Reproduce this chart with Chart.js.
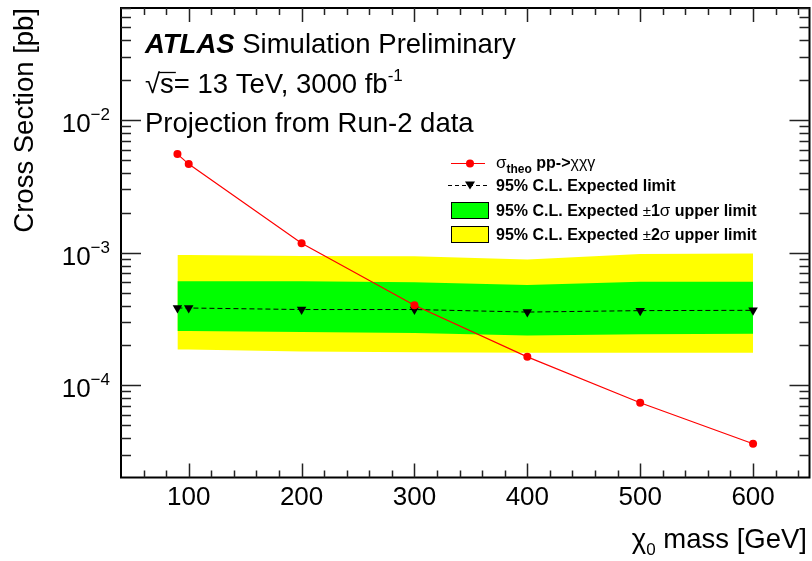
<!DOCTYPE html>
<html>
<head>
<meta charset="utf-8">
<script src="https://cdn.jsdelivr.net/npm/chart.js@4.4.1/dist/chart.umd.min.js"></script>
<style>
  html, body { margin: 0; padding: 0; background: #fff; overflow: hidden; }
  #wrap { width: 812px; height: 561px; position: relative; }
  canvas { display: block; }
</style>
</head>
<body>
<div id="wrap"><canvas id="limitChart"></canvas></div>
<script>
// chi0 mass points [GeV]
const masses = [90, 100, 200, 300, 400, 500, 600];
// theory cross section [pb]
const sigmaTheo = [5.54e-3, 4.66e-3, 1.18e-3, 4.02e-4, 1.64e-4, 7.4e-5, 3.63e-5];
// expected 95% CL limit [pb]
const expLimit = [3.83e-4, 3.83e-4, 3.73e-4, 3.73e-4, 3.57e-4, 3.66e-4, 3.68e-4];
// +-1 sigma band
const band1Up = [6.1e-4, 6.1e-4, 6.1e-4, 6.0e-4, 5.7e-4, 6.03e-4, 6.03e-4];
const band1Down = [2.57e-4, 2.57e-4, 2.52e-4, 2.48e-4, 2.38e-4, 2.43e-4, 2.45e-4];
// +-2 sigma band
const band2Up = [9.6e-4, 9.6e-4, 9.45e-4, 9.4e-4, 8.9e-4, 9.8e-4, 9.86e-4];
const band2Down = [1.86e-4, 1.86e-4, 1.8e-4, 1.78e-4, 1.76e-4, 1.76e-4, 1.76e-4];

const xTicks = [100, 200, 300, 400, 500, 600];
const yDecades = [-4, -3, -2];

const FONT = '"Liberation Sans", Arial, Helvetica, sans-serif';

function xy(ys) {
  return masses.map((m, i) => ({ x: m, y: ys[i] }));
}

// text made of parts (sub/superscripts), returns end x
function drawScript(ctx, parts, x, y) {
  let cx = x;
  parts.forEach(p => {
    ctx.font = p.font;
    ctx.fillText(p.text, cx, y + (p.dy || 0));
    cx += ctx.measureText(p.text).width;
  });
  return cx;
}

const rootFrame = {
  id: "rootFrame",
  afterDraw(chart) {
    const ctx = chart.ctx;
    const area = chart.chartArea;
    const xs = chart.scales.x;
    const ys = chart.scales.y;
    ctx.save();
    ctx.strokeStyle = "#000";
    ctx.fillStyle = "#000";
    ctx.textAlign = "left";
    ctx.textBaseline = "alphabetic";

    // frame
    ctx.lineWidth = 2;
    ctx.strokeRect(area.left, area.top, area.right - area.left, area.bottom - area.top);

    // x ticks, inside, bottom and top
    ctx.lineWidth = 1.5;
    ctx.strokeStyle = "#222";
    for (let v = 60; v <= 640; v += 20) {
      const px = Math.round(xs.getPixelForValue(v)) + 0.5;
      const len = v % 100 === 0 ? 14 : 7;
      ctx.beginPath();
      ctx.moveTo(px, area.bottom);
      ctx.lineTo(px, area.bottom - len);
      ctx.moveTo(px, area.top);
      ctx.lineTo(px, area.top + len);
      ctx.stroke();
    }

    // y ticks, inside, left and right
    for (let d = -5; d <= -1; d++) {
      for (let m = 1; m <= 9; m++) {
        const v = m * Math.pow(10, d);
        if (v < ys.min || v > ys.max) continue;
        const py = Math.round(ys.getPixelForValue(v)) + 0.5;
        const len = m === 1 ? 20 : 10;
        ctx.beginPath();
        ctx.moveTo(area.left, py);
        ctx.lineTo(area.left + len, py);
        ctx.moveTo(area.right, py);
        ctx.lineTo(area.right - len, py);
        ctx.stroke();
      }
    }

    // x tick labels
    ctx.font = "26px " + FONT;
    ctx.textAlign = "center";
    xTicks.forEach(v => {
      ctx.fillText(String(v), xs.getPixelForValue(v), 505);
    });
    ctx.textAlign = "left";

    // y tick labels 10^n
    yDecades.forEach(d => {
      const py = ys.getPixelForValue(Math.pow(10, d));
      ctx.font = "26px " + FONT;
      const w10 = ctx.measureText("10").width;
      ctx.font = "17px " + FONT;
      const wExp = ctx.measureText("\u2212" + Math.abs(d)).width;
      const x0 = area.left - 11 - w10 - wExp;
      drawScript(ctx, [
        { text: "10", font: "26px " + FONT },
        { text: "\u2212" + Math.abs(d), font: "17px " + FONT, dy: -12 }
      ], x0, py + 12);
    });

    // axis titles
    ctx.font = "27.5px " + FONT;
    ctx.textAlign = "right";
    ctx.save();
    ctx.translate(33, area.top);
    ctx.rotate(-Math.PI / 2);
    ctx.fillText("Cross Section [pb]", 0, 0);
    ctx.restore();
    ctx.textAlign = "left";

    ctx.font = "27.5px " + FONT;
    const wMass = ctx.measureText(" mass [GeV]").width;
    const wChi = ctx.measureText("\u03c7").width;
    ctx.font = "17px " + FONT;
    const wSub = ctx.measureText("0").width;
    drawScript(ctx, [
      { text: "\u03c7", font: "27.5px " + FONT },
      { text: "0", font: "17px " + FONT, dy: 7 },
      { text: " mass [GeV]", font: "27.5px " + FONT }
    ], 807 - wMass - wChi - wSub, 548);

    // ATLAS label block
    drawScript(ctx, [
      { text: "ATLAS", font: "italic bold 27.5px " + FONT },
      { text: " Simulation Preliminary", font: "27.5px " + FONT }
    ], 145, 53);

    ctx.font = "27.5px " + FONT;
    const wSq = ctx.measureText("\u221a").width;
    const wS = ctx.measureText("s").width;
    drawScript(ctx, [
      { text: "\u221as= 13 TeV, 3000 fb", font: "27.5px " + FONT },
      { text: "-1", font: "17px " + FONT, dy: -12 }
    ], 145, 93);
    // overline of the square root
    ctx.lineWidth = 1.3;
    ctx.strokeStyle = "#000";
    ctx.beginPath();
    ctx.moveTo(145 + wSq - 1, 72.5);
    ctx.lineTo(145 + wSq + wS + 2, 72.5);
    ctx.stroke();

    ctx.font = "27.5px " + FONT;
    ctx.fillText("Projection from Run-2 data", 145, 132);

    // legend
    const lx0 = 451, lx1 = 488, tx = 496;
    const rows = [163, 185, 210, 234];

    // theory entry
    ctx.strokeStyle = "#ff0000";
    ctx.lineWidth = 1.2;
    ctx.beginPath();
    ctx.moveTo(lx0, rows[0] + 0.5);
    ctx.lineTo(lx1 - 3, rows[0] + 0.5);
    ctx.stroke();
    ctx.fillStyle = "#ff0000";
    ctx.beginPath();
    ctx.arc(470, rows[0] + 0.5, 4, 0, Math.PI * 2);
    ctx.fill();
    ctx.fillStyle = "#000";
    drawScript(ctx, [
      { text: "\u03c3", font: "17px " + FONT },
      { text: "theo", font: "bold 12px " + FONT, dy: 5 },
      { text: " pp->", font: "bold 16px " + FONT },
      { text: "\u03c7\u03c7\u03b3", font: "16px " + FONT }
    ], tx, rows[0] + 5);

    // expected entry
    ctx.strokeStyle = "#000";
    ctx.lineWidth = 1;
    ctx.setLineDash([4, 3]);
    ctx.beginPath();
    ctx.moveTo(448, rows[1] + 0.5);
    ctx.lineTo(lx1, rows[1] + 0.5);
    ctx.stroke();
    ctx.setLineDash([]);
    ctx.beginPath();
    ctx.moveTo(470 - 5, rows[1] - 3.5);
    ctx.lineTo(470 + 5, rows[1] - 3.5);
    ctx.lineTo(470, rows[1] + 4.5);
    ctx.closePath();
    ctx.fill();
    ctx.font = "bold 16px " + FONT;
    ctx.fillText("95% C.L. Expected limit", tx, rows[1] + 6);

    // band entries
    [["#00ff00", rows[2], "1"], ["#ffff00", rows[3], "2"]].forEach(([col, ry, n]) => {
      ctx.fillStyle = col;
      ctx.fillRect(lx0, ry - 8, lx1 - lx0, 17);
      ctx.strokeStyle = "#000";
      ctx.lineWidth = 1;
      ctx.strokeRect(lx0 + 0.5, ry - 7.5, lx1 - lx0, 16);
      ctx.fillStyle = "#000";
      drawScript(ctx, [
        { text: "95% C.L. Expected ", font: "bold 16px " + FONT },
        { text: "\u00b1", font: "15px " + FONT },
        { text: n, font: "bold 16px " + FONT },
        { text: "\u03c3", font: "17px " + FONT },
        { text: " upper limit", font: "bold 16px " + FONT }
      ], tx, ry + 6);
    });

    ctx.restore();
  }
};

new Chart(document.getElementById("limitChart"), {
  type: "line",
  data: {
    datasets: [
      {
        label: "theory",
        data: xy(sigmaTheo),
        borderColor: "#ff0000",
        backgroundColor: "#ff0000",
        borderWidth: 1.2,
        pointRadius: 4,
        pointBorderWidth: 0,
        fill: false
      },
      {
        label: "expected",
        data: xy(expLimit),
        borderColor: "#000",
        backgroundColor: "#000",
        borderWidth: 1,
        borderDash: [5, 3],
        pointStyle: "triangle",
        rotation: 180,
        pointRadius: 5.5,
        pointBorderWidth: 0,
        fill: false
      },
      {
        label: "1s up",
        data: xy(band1Up),
        borderWidth: 0,
        pointRadius: 0,
        backgroundColor: "#00ff00",
        fill: "+1"
      },
      {
        label: "1s down",
        data: xy(band1Down),
        borderWidth: 0,
        pointRadius: 0,
        fill: false
      },
      {
        label: "2s up",
        data: xy(band2Up),
        borderWidth: 0,
        pointRadius: 0,
        backgroundColor: "#ffff00",
        fill: "+1"
      },
      {
        label: "2s down",
        data: xy(band2Down),
        borderWidth: 0,
        pointRadius: 0,
        fill: false
      }
    ]
  },
  options: {
    responsive: true,
    maintainAspectRatio: false,
    animation: false,
    layout: {
      autoPadding: false,
      padding: { left: 121, top: 8, right: 2.5, bottom: 83.5 }
    },
    plugins: {
      legend: { display: false },
      tooltip: { enabled: false }
    },
    scales: {
      x: {
        type: "linear",
        min: 40,
        max: 650,
        display: false
      },
      y: {
        type: "logarithmic",
        min: 2.02e-5,
        max: 0.070,
        display: false
      }
    }
  },
  plugins: [rootFrame]
});
</script>
</body>
</html>
